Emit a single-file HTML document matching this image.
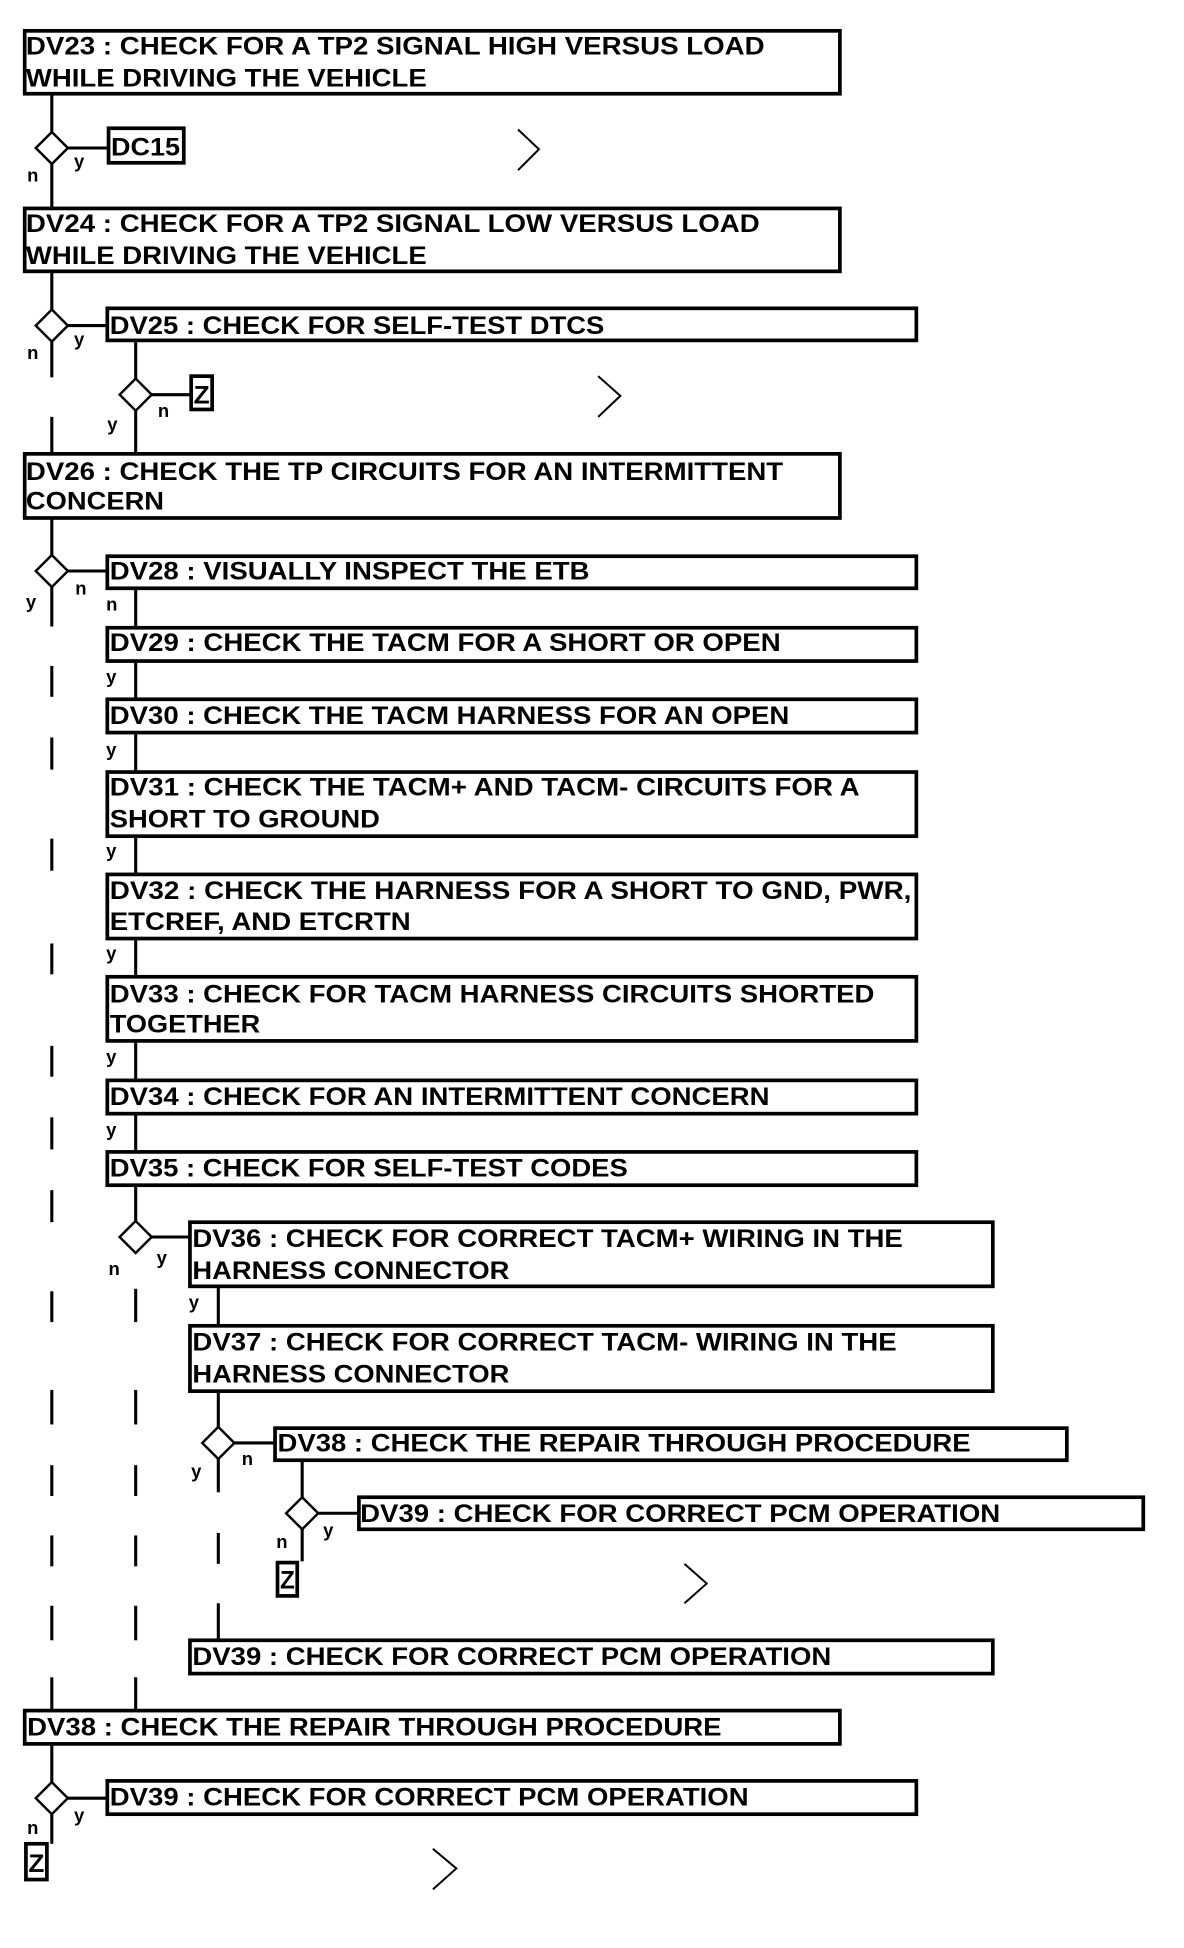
<!DOCTYPE html>
<html><head><meta charset="utf-8"><style>
html,body{margin:0;padding:0;background:#fff;}
svg{display:block;}
text{font-family:"Liberation Sans",Arial,sans-serif;font-weight:bold;fill:#000;}
.t{font-size:20px;}
.l{font-size:15px;}
</style></head><body>
<svg width="1184" height="1948" viewBox="0 0 960 1579.5" xmlns="http://www.w3.org/2000/svg">
<g fill="#fff" stroke="#000" stroke-width="3">
<rect x="20" y="25" width="661" height="51"/>
<rect x="88" y="104" width="61" height="28"/>
<rect x="20" y="169" width="661" height="51"/>
<rect x="87" y="250" width="656" height="26"/>
<rect x="155" y="305" width="17" height="27"/>
<rect x="20" y="368" width="661" height="52"/>
<rect x="87" y="451" width="656" height="26"/>
<rect x="87" y="509" width="656" height="27"/>
<rect x="87" y="567" width="656" height="27"/>
<rect x="87" y="626" width="656" height="52"/>
<rect x="87" y="709" width="656" height="52"/>
<rect x="87" y="792" width="656" height="52"/>
<rect x="87" y="876" width="656" height="27"/>
<rect x="87" y="934" width="656" height="27"/>
<rect x="154" y="991" width="651" height="52"/>
<rect x="154" y="1075" width="651" height="53"/>
<rect x="223" y="1158" width="642" height="26"/>
<rect x="291" y="1214" width="636" height="26"/>
<rect x="225" y="1267" width="16" height="27"/>
<rect x="154" y="1330" width="651" height="27"/>
<rect x="20" y="1387" width="661" height="27"/>
<rect x="87" y="1444" width="656" height="27"/>
<rect x="21" y="1495" width="17" height="29"/>
</g>
<g stroke="#000" stroke-width="2.5" fill="none">
<!-- trunk -->
<line x1="42" y1="76" x2="42" y2="107"/>
<line x1="42" y1="133" x2="42" y2="169"/>
<line x1="55" y1="120" x2="88" y2="120"/>
<line x1="42" y1="220" x2="42" y2="251"/>
<line x1="42" y1="277" x2="42" y2="306"/>
<line x1="55" y1="264" x2="87" y2="264"/>
<line x1="42" y1="338" x2="42" y2="368"/>
<line x1="110" y1="276" x2="110" y2="307"/>
<line x1="123" y1="320" x2="155" y2="320"/>
<line x1="110" y1="333" x2="110" y2="368"/>
<line x1="42" y1="420" x2="42" y2="450"/>
<line x1="55" y1="463" x2="87" y2="463"/>
<line x1="42" y1="476" x2="42" y2="508"/>
<line x1="42" y1="540" x2="42" y2="565"/>
<line x1="42" y1="598" x2="42" y2="624"/>
<line x1="42" y1="680" x2="42" y2="706"/>
<line x1="42" y1="765" x2="42" y2="790"/>
<line x1="42" y1="848" x2="42" y2="873"/>
<line x1="42" y1="906" x2="42" y2="932"/>
<line x1="42" y1="965" x2="42" y2="991"/>
<line x1="42" y1="1047" x2="42" y2="1072"/>
<line x1="42" y1="1127" x2="42" y2="1155"/>
<line x1="42" y1="1188" x2="42" y2="1213"/>
<line x1="42" y1="1245" x2="42" y2="1270"/>
<line x1="42" y1="1302" x2="42" y2="1330"/>
<line x1="42" y1="1360" x2="42" y2="1387"/>
<!-- col2 -->
<line x1="110" y1="477" x2="110" y2="509"/>
<line x1="110" y1="536" x2="110" y2="567"/>
<line x1="110" y1="594" x2="110" y2="626"/>
<line x1="110" y1="678" x2="110" y2="709"/>
<line x1="110" y1="761" x2="110" y2="792"/>
<line x1="110" y1="844" x2="110" y2="876"/>
<line x1="110" y1="903" x2="110" y2="934"/>
<line x1="110" y1="961" x2="110" y2="990"/>
<line x1="123" y1="1003" x2="154" y2="1003"/>
<line x1="110" y1="1045" x2="110" y2="1072"/>
<line x1="110" y1="1127" x2="110" y2="1155"/>
<line x1="110" y1="1188" x2="110" y2="1213"/>
<line x1="110" y1="1245" x2="110" y2="1270"/>
<line x1="110" y1="1302" x2="110" y2="1330"/>
<line x1="110" y1="1360" x2="110" y2="1387"/>
<!-- col3 -->
<line x1="177" y1="1043" x2="177" y2="1075"/>
<line x1="177" y1="1128" x2="177" y2="1157"/>
<line x1="190" y1="1170" x2="223" y2="1170"/>
<line x1="177" y1="1183" x2="177" y2="1210"/>
<line x1="177" y1="1243" x2="177" y2="1268"/>
<line x1="177" y1="1300" x2="177" y2="1330"/>
<!-- col4 -->
<line x1="245" y1="1184" x2="245" y2="1214"/>
<line x1="258" y1="1227" x2="291" y2="1227"/>
<line x1="245" y1="1240" x2="245" y2="1266"/>
<!-- bottom -->
<line x1="42" y1="1414" x2="42" y2="1445"/>
<line x1="55" y1="1458" x2="87" y2="1458"/>
<line x1="42" y1="1471" x2="42" y2="1495"/>
</g>
<g fill="#fff" stroke="#000" stroke-width="2">
<polygon points="42,107 55,120 42,133 29,120"/>
<polygon points="42,251 55,264 42,277 29,264"/>
<polygon points="110,307 123,320 110,333 97,320"/>
<polygon points="42,450 55,463 42,476 29,463"/>
<polygon points="110,990 123,1003 110,1016 97,1003"/>
<polygon points="177,1157 190,1170 177,1183 164,1170"/>
<polygon points="245,1214 258,1227 245,1240 232,1227"/>
<polygon points="42,1445 55,1458 42,1471 29,1458"/>
</g>
<g fill="none" stroke="#000" stroke-width="1.6">
<polyline points="420,105 437,121 420,138"/>
<polyline points="485,305 503,321 485,338"/>
<polyline points="555,1268 573,1284 555,1300"/>
<polyline points="351,1499 370,1515 351,1532"/>
</g>
<g class="t">
<text x="21" y="44" textLength="599" lengthAdjust="spacingAndGlyphs">DV23 : CHECK FOR A TP2 SIGNAL HIGH VERSUS LOAD</text>
<text x="21" y="70" textLength="325" lengthAdjust="spacingAndGlyphs">WHILE DRIVING THE VEHICLE</text>
<text x="90" y="126" textLength="56" lengthAdjust="spacingAndGlyphs">DC15</text>
<text x="21" y="188" textLength="595" lengthAdjust="spacingAndGlyphs">DV24 : CHECK FOR A TP2 SIGNAL LOW VERSUS LOAD</text>
<text x="21" y="214" textLength="325" lengthAdjust="spacingAndGlyphs">WHILE DRIVING THE VEHICLE</text>
<text x="89" y="271" textLength="401" lengthAdjust="spacingAndGlyphs">DV25 : CHECK FOR SELF-TEST DTCS</text>
<text x="157" y="327" textLength="13" lengthAdjust="spacingAndGlyphs">Z</text>
<text x="21" y="389" textLength="614" lengthAdjust="spacingAndGlyphs">DV26 : CHECK THE TP CIRCUITS FOR AN INTERMITTENT</text>
<text x="21" y="413" textLength="112" lengthAdjust="spacingAndGlyphs">CONCERN</text>
<text x="89" y="470" textLength="389" lengthAdjust="spacingAndGlyphs">DV28 : VISUALLY INSPECT THE ETB</text>
<text x="89" y="528" textLength="544" lengthAdjust="spacingAndGlyphs">DV29 : CHECK THE TACM FOR A SHORT OR OPEN</text>
<text x="89" y="587" textLength="551" lengthAdjust="spacingAndGlyphs">DV30 : CHECK THE TACM HARNESS FOR AN OPEN</text>
<text x="89" y="645" textLength="608" lengthAdjust="spacingAndGlyphs">DV31 : CHECK THE TACM+ AND TACM- CIRCUITS FOR A</text>
<text x="89" y="671" textLength="219" lengthAdjust="spacingAndGlyphs">SHORT TO GROUND</text>
<text x="89" y="729" textLength="650" lengthAdjust="spacingAndGlyphs">DV32 : CHECK THE  HARNESS FOR A SHORT TO GND, PWR,</text>
<text x="89" y="754" textLength="244" lengthAdjust="spacingAndGlyphs">ETCREF, AND ETCRTN</text>
<text x="89" y="813" textLength="620" lengthAdjust="spacingAndGlyphs">DV33 : CHECK FOR TACM HARNESS CIRCUITS SHORTED</text>
<text x="89" y="837" textLength="122" lengthAdjust="spacingAndGlyphs">TOGETHER</text>
<text x="89" y="896" textLength="535" lengthAdjust="spacingAndGlyphs">DV34 : CHECK FOR AN INTERMITTENT CONCERN</text>
<text x="89" y="954" textLength="420" lengthAdjust="spacingAndGlyphs">DV35 : CHECK FOR SELF-TEST CODES</text>
<text x="156" y="1011" textLength="576" lengthAdjust="spacingAndGlyphs">DV36 : CHECK FOR CORRECT TACM+ WIRING IN THE</text>
<text x="156" y="1037" textLength="257" lengthAdjust="spacingAndGlyphs">HARNESS CONNECTOR</text>
<text x="156" y="1095" textLength="571" lengthAdjust="spacingAndGlyphs">DV37 : CHECK FOR CORRECT TACM- WIRING IN THE</text>
<text x="156" y="1121" textLength="257" lengthAdjust="spacingAndGlyphs">HARNESS CONNECTOR</text>
<text x="225" y="1177" textLength="562" lengthAdjust="spacingAndGlyphs">DV38 : CHECK THE REPAIR THROUGH PROCEDURE</text>
<text x="292" y="1234" textLength="519" lengthAdjust="spacingAndGlyphs">DV39 : CHECK FOR CORRECT PCM OPERATION</text>
<text x="227" y="1288" textLength="12" lengthAdjust="spacingAndGlyphs">Z</text>
<text x="156" y="1350" textLength="518" lengthAdjust="spacingAndGlyphs">DV39 : CHECK FOR CORRECT PCM OPERATION</text>
<text x="22" y="1407" textLength="563" lengthAdjust="spacingAndGlyphs">DV38 : CHECK THE REPAIR THROUGH PROCEDURE</text>
<text x="89" y="1464" textLength="518" lengthAdjust="spacingAndGlyphs">DV39 : CHECK FOR CORRECT PCM OPERATION</text>
<text x="23" y="1518" textLength="13" lengthAdjust="spacingAndGlyphs">Z</text>
</g>
<g class="l">
<text x="60" y="136">y</text><text x="22" y="147">n</text>
<text x="60" y="280">y</text><text x="22" y="291">n</text>
<text x="128" y="338">n</text><text x="87" y="349">y</text>
<text x="61" y="482">n</text><text x="21" y="493">y</text>
<text x="86" y="495">n</text>
<text x="86" y="554">y</text>
<text x="86" y="613">y</text>
<text x="86" y="695">y</text>
<text x="86" y="778">y</text>
<text x="86" y="862">y</text>
<text x="86" y="921">y</text>
<text x="127" y="1025">y</text><text x="88" y="1034">n</text>
<text x="153" y="1061">y</text>
<text x="196" y="1188">n</text><text x="155" y="1198">y</text>
<text x="262" y="1246">y</text><text x="224" y="1255">n</text>
<text x="60" y="1477">y</text><text x="22" y="1487">n</text>
</g>
</svg>
</body></html>
